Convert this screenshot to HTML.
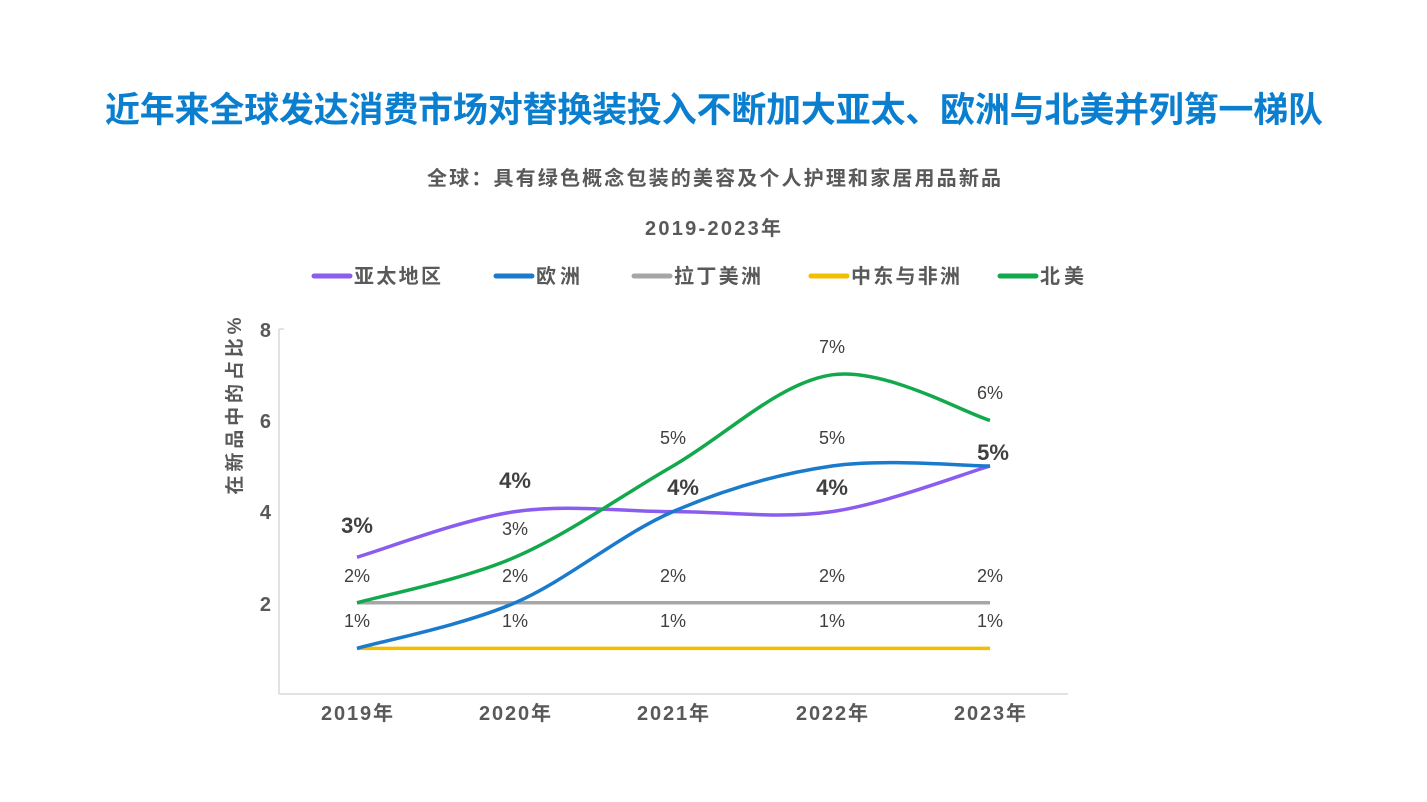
<!DOCTYPE html>
<html><head><meta charset="utf-8"><style>
html,body{margin:0;padding:0;background:#fff;}
svg{display:block;font-family:"Liberation Sans","Noto Sans CJK SC",sans-serif;}
</style></head><body>
<svg id="s" width="1427" height="802" viewBox="0 0 1427 802">
<text x="714" y="122" text-anchor="middle" font-size="35" font-weight="bold" fill="#0a7fcf" textLength="1218" lengthAdjust="spacing">近年来全球发达消费市场对替换装投入不断加大亚太、欧洲与北美并列第一梯队</text>
<text x="714" y="185" text-anchor="middle" font-size="20" font-weight="bold" fill="#595959" textLength="574" lengthAdjust="spacing">全球：具有绿色概念包装的美容及个人护理和家居用品新品</text>
<text x="713" y="235" text-anchor="middle" font-size="20" font-weight="bold" fill="#595959" textLength="136" lengthAdjust="spacing">2019-2023年</text>
<g font-size="20" font-weight="bold" fill="#595959" stroke-linecap="round" stroke-width="5">
<line x1="314" y1="276" x2="350" y2="276" stroke="#8b5cf0"/><text x="354" y="283" textLength="87" lengthAdjust="spacing">亚太地区</text>
<line x1="496" y1="276" x2="532" y2="276" stroke="#1a7acc"/><text x="536" y="283" textLength="44" lengthAdjust="spacing">欧洲</text>
<line x1="634" y1="276" x2="670" y2="276" stroke="#a6a6a6"/><text x="674" y="283" textLength="87" lengthAdjust="spacing">拉丁美洲</text>
<line x1="811" y1="276" x2="847" y2="276" stroke="#f5bd00"/><text x="851" y="283" textLength="109" lengthAdjust="spacing">中东与非洲</text>
<line x1="1000" y1="276" x2="1036" y2="276" stroke="#12a84c"/><text x="1040" y="283" textLength="44" lengthAdjust="spacing">北美</text>
</g>
<text transform="translate(241,406) rotate(-90)" text-anchor="middle" font-size="19" font-weight="bold" fill="#595959" textLength="177" lengthAdjust="spacing">在新品中的占比%</text>
<line x1="279" y1="329" x2="279" y2="694" stroke="#d9d9d9" stroke-width="1.5"/>
<line x1="279" y1="329" x2="284" y2="329" stroke="#d9d9d9" stroke-width="1.5"/>
<line x1="279" y1="694" x2="1068" y2="694" stroke="#d9d9d9" stroke-width="1.5"/>
<g font-size="20" font-weight="bold" fill="#595959" text-anchor="end">
<text x="271" y="337">8</text><text x="271" y="428">6</text><text x="271" y="519">4</text><text x="271" y="611">2</text>
</g>
<g font-size="20" font-weight="bold" fill="#595959" text-anchor="middle">
<text x="357" y="720" textLength="72" lengthAdjust="spacing">2019年</text><text x="515" y="720" textLength="72" lengthAdjust="spacing">2020年</text><text x="673" y="720" textLength="72" lengthAdjust="spacing">2021年</text><text x="832" y="720" textLength="72" lengthAdjust="spacing">2022年</text><text x="990" y="720" textLength="72" lengthAdjust="spacing">2023年</text>
</g>
<g id="lines" fill="none" stroke-width="3.5"></g>
<g font-size="18" fill="#404040" text-anchor="middle">
<text x="357" y="582">2%</text><text x="357" y="627">1%</text>
<text x="515" y="535">3%</text><text x="515" y="582">2%</text><text x="515" y="627">1%</text>
<text x="673" y="444">5%</text><text x="673" y="582">2%</text><text x="673" y="627">1%</text>
<text x="832" y="353">7%</text><text x="832" y="444">5%</text><text x="832" y="582">2%</text><text x="832" y="627">1%</text>
<text x="990" y="399">6%</text><text x="990" y="582">2%</text><text x="990" y="627">1%</text>
</g>
<g font-size="22" font-weight="bold" fill="#404040" text-anchor="middle">
<text x="357" y="533">3%</text><text x="515" y="488">4%</text><text x="683" y="495">4%</text><text x="832" y="495">4%</text><text x="993" y="460">5%</text>
</g>
</svg>
<script>
var xs=[357,515,673,832,990];function Y(v){return 694-45.6*v;}
var series=[["#a6a6a6",[2,2,2,2,2]],["#f5bd00",[1,1,1,1,1]],["#8b5cf0",[3,4,4,4,5]],["#1a7acc",[1,2,4,5,5]],["#12a84c",[2,3,5,7,6]]];
var g=document.getElementById('lines');
series.forEach(function(s){var p=s[1].map(function(v,i){return [xs[i],Y(v)];});
var d="M"+p[0][0]+","+p[0][1];var t=0.5;
for(var i=0;i<p.length-1;i++){var p0=p[Math.max(i-1,0)],p1=p[i],p2=p[i+1],p3=p[Math.min(i+2,p.length-1)];
var c1=[p1[0]+(p2[0]-p0[0])*t/3,p1[1]+(p2[1]-p0[1])*t/3],c2=[p2[0]-(p3[0]-p1[0])*t/3,p2[1]-(p3[1]-p1[1])*t/3];
d+=" C"+c1+" "+c2+" "+p2;}
var e=document.createElementNS("http://www.w3.org/2000/svg","path");e.setAttribute("d",d);e.setAttribute("stroke",s[0]);g.appendChild(e);});
</script>
</body></html>
